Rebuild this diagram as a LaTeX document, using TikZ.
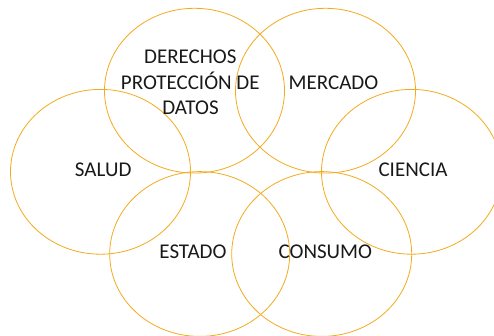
\documentclass[tikz,border=0pt]{standalone}
\usepackage{fontspec}
\setmainfont{Carlito}
\begin{document}
\begin{tikzpicture}[x=1pt,y=-1pt,
  ring/.style={draw={rgb,255:red,242;green,170;blue,30}, line width=0.8pt},
  lbl/.style={font=\fontsize{21}{25}\selectfont, text={rgb,255:red,25;green,25;blue,25}, anchor=base, inner sep=0pt, align=center}]
\useasboundingbox (0,0) rectangle (494,336);
\begin{scope}
\clip (0,0) rectangle (494,336);
\draw[ring] (194.5,90.7) ellipse [x radius=90, y radius=82.4];
\draw[ring] (325.5,90.7) ellipse [x radius=90, y radius=82.4];
\draw[ring] (100.5,171.8) ellipse [x radius=90, y radius=82.4];
\draw[ring] (411.5,171.8) ellipse [x radius=90, y radius=82.4];
\draw[ring] (199.7,254) ellipse [x radius=90, y radius=82.4];
\draw[ring] (321.7,254) ellipse [x radius=90, y radius=82.4];
\end{scope}
\node[lbl] (der) at (190.3,64) {DERECHOS};
\node[lbl] (pro) at (190.3,89.3) {PROTECCIÓN DE};
\node[lbl] (dat) at (190.5,114.3) {DATOS};
\node[lbl] (mer) at (333.5,89.3) {MERCADO};
\node[lbl] (sal) at (103.2,176.7) {SALUD};
\node[lbl] (cie) at (413,176.7) {CIENCIA};
\node[lbl] (est) at (193,258.7) {ESTADO};
\node[lbl] (con) at (325.3,258.7) {CONSUMO};
\end{tikzpicture}
\end{document}
